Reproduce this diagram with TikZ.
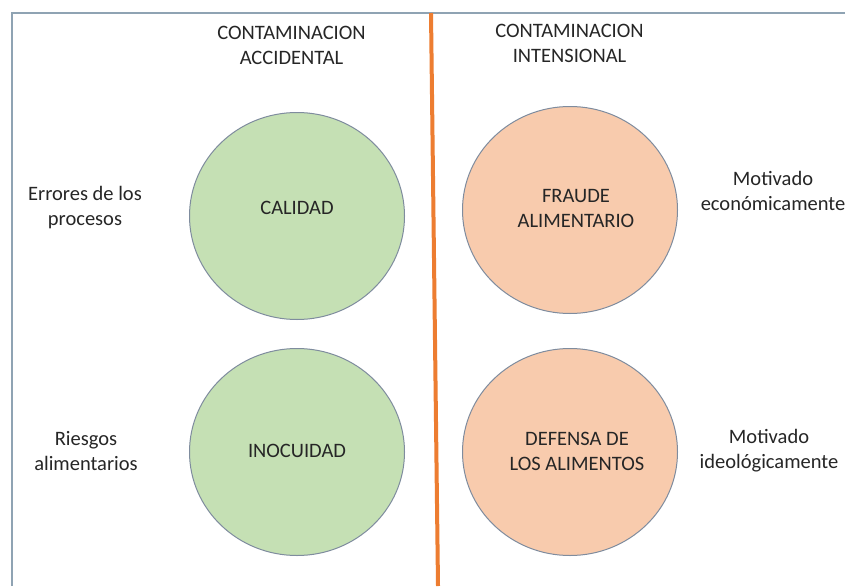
\documentclass[tikz,border=0pt]{standalone}
\usepackage{fontspec}
\usetikzlibrary{shapes.geometric}
\setmainfont{Carlito}
\definecolor{frameC}{HTML}{8FA3B3}
\definecolor{greenF}{HTML}{C5E0B4}
\definecolor{orangeF}{HTML}{F8CBAD}
\definecolor{ringC}{HTML}{7F8C9E}
\definecolor{divC}{HTML}{ED7D31}
\definecolor{txtC}{HTML}{262626}
\begin{document}
\begin{tikzpicture}[x=1pt,y=-1pt,
  lbl/.style={align=center,text=txtC,font=\fontsize{20.5}{25}\selectfont,inner sep=0pt},
  gball/.style={ellipse,draw=ringC,line width=1pt,fill=greenF,minimum width=215pt,minimum height=207pt,inner sep=0pt},
  oball/.style={ellipse,draw=ringC,line width=1pt,fill=orangeF,minimum width=215pt,minimum height=207pt,inner sep=0pt},
  frameline/.style={draw=frameC,line width=1.2pt},
  divline/.style={draw=divC,line width=4pt}]
\useasboundingbox (0,0) rectangle (845,586);
\fill[white] (0,0) rectangle (845,586);
% frame
\coordinate (fb) at (12,586);
\coordinate (fc) at (12,13);
\coordinate (fr) at (845,13);
\draw[frameline] (fb) -- (fc) -- (fr);
% divider
\coordinate (dt) at (431,13);
\coordinate (db) at (438,586);
\draw[divline] (dt) -- (db);
% headers
\node[lbl] (h1) at (291.5,45) {CONTAMINACION\\ACCIDENTAL};
\node[lbl] (h2) at (569.5,43) {CONTAMINACION\\INTENSIONAL};
% circles
\node[gball] (cal) at (297,216) {};
\node[oball] (fra) at (570,210) {};
\node[gball] (ino) at (297,452) {};
\node[oball] (def) at (570,452) {};
\node[lbl] (calT) at (297,208) {CALIDAD};
\node[lbl] (fraT) at (576,208) {FRAUDE\\ALIMENTARIO};
\node[lbl] (inoT) at (297,451) {INOCUIDAD};
\node[lbl] (defT) at (577,451) {DEFENSA DE\\LOS ALIMENTOS};
% side labels
\node[lbl] (err) at (85,208) {Errores de los\\procesos};
\node[lbl] (rie) at (86,451) {Riesgos\\alimentarios};
\node[lbl] (eco) at (773,191) {Motivado\\económicamente};
\node[lbl] (ideo) at (769,451) {Motivado\\ideológicamente};
\end{tikzpicture}
\end{document}
